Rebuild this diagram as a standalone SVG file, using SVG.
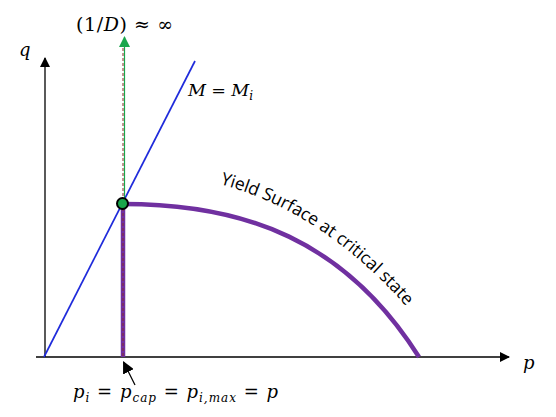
<svg xmlns="http://www.w3.org/2000/svg" width="556" height="417" viewBox="0 0 556 417">
<style>
.math{font-family:"DejaVu Serif","Liberation Serif",serif;font-style:italic;fill:#000}
.up{font-family:"DejaVu Serif","Liberation Serif",serif;font-style:normal;fill:#000}
.lbl{font-family:"Open Sans","Liberation Sans",sans-serif;fill:#000}
.axis{stroke:#000;stroke-width:1.3;fill:none}
</style>
<defs>
<marker id="blk" markerWidth="10" markerHeight="10" refX="9" refY="5" orient="auto" markerUnits="userSpaceOnUse" viewBox="0 0 10 10"><path d="M0,0 L10,5 L0,10 z" fill="#000"/></marker>
<marker id="grn" markerWidth="11" markerHeight="11" refX="10" refY="5.5" orient="auto" markerUnits="userSpaceOnUse" viewBox="0 0 11 11"><path d="M0,0 L11,5.5 L0,11 z" fill="#1AA64B"/></marker>
<marker id="ptr" markerWidth="12" markerHeight="12" refX="11" refY="6" orient="auto" markerUnits="userSpaceOnUse" viewBox="0 0 12 12"><path d="M0,0 L12,6 L0,12 z" fill="#000"/></marker>
<path id="yp" d="M220,184 C285,202 345,238 406,306" fill="none"/>
</defs>
<rect width="556" height="417" fill="#fff"/>
<g id="connectors">
<line id="p-axis" class="axis" x1="36" y1="357" x2="509" y2="357" marker-end="url(#blk)"/>
<line id="q-axis" class="axis" x1="45" y1="357" x2="45" y2="58" marker-end="url(#blk)"/>
<line id="m-line" x1="44" y1="357" x2="195" y2="61" stroke="#1F2BDB" stroke-width="1.7"/>
<path id="yield" d="M123,204 C245,204 345,240 419,357" fill="none" stroke="#7030A0" stroke-width="4.5"/>
<line id="pcap" x1="123" y1="204" x2="123" y2="357" stroke="#7030A0" stroke-width="4.5"/>
<line id="d-arrow" x1="124.5" y1="203" x2="124.5" y2="37" stroke="#1AA64B" stroke-width="1.2" marker-end="url(#grn)"/>
<line id="dash" x1="123" y1="48" x2="123" y2="357" stroke="#8B2A2A" stroke-width="1" stroke-dasharray="3,2"/>
<line id="pointer" x1="135" y1="385" x2="123.5" y2="362" stroke="#000" stroke-width="1.2" marker-end="url(#ptr)"/>
</g>
<g id="point"><circle cx="122.5" cy="203.5" r="5.5" fill="#1AA64B" stroke="#000" stroke-width="2"/></g>
<g id="labels">
<text class="math" x="19" y="56" font-size="18">q</text>
<text class="math" x="523" y="369" font-size="18">p</text>
<text x="76" y="31" font-size="19" textLength="97" lengthAdjust="spacing"><tspan class="up">(1/</tspan><tspan class="math">D</tspan><tspan class="up">) ≈ ∞</tspan></text>
<text x="188" y="96" font-size="17.5" textLength="65" lengthAdjust="spacing"><tspan class="math">M</tspan><tspan class="up"> = </tspan><tspan class="math">M</tspan><tspan class="math" font-size="12" dy="4">i</tspan></text>
<text x="73" y="398" font-size="18" textLength="205" lengthAdjust="spacing"><tspan class="math">p</tspan><tspan class="math" font-size="12" dy="4">i</tspan><tspan class="up" dy="-4"> = </tspan><tspan class="math">p</tspan><tspan class="math" font-size="12" dy="4">cap</tspan><tspan class="up" dy="-4"> = </tspan><tspan class="math">p</tspan><tspan class="math" font-size="12" dy="4">i,max</tspan><tspan class="up" dy="-4"> = </tspan><tspan class="math">p</tspan></text>
<text class="lbl" font-size="17.5"><textPath href="#yp" textLength="226" lengthAdjust="spacing">Yield Surface at critical state</textPath></text>
</g>
</svg>
